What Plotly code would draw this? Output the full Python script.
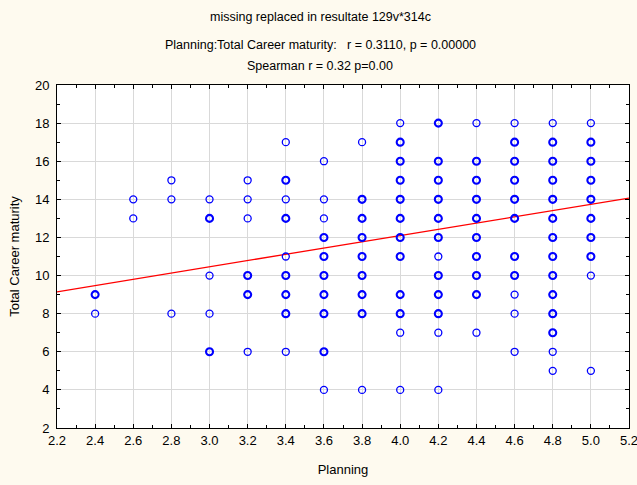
import numpy as np
import plotly.graph_objects as go

# ---- data ----
planning = (
    [2.4] * 2 + [2.6] * 2 + [2.8] * 3 + [3.0] * 5 + [3.2] * 6 + [3.4] * 9 +
    [3.6] * 10 + [3.8] * 9 + [4.0] * 12 + [4.2] * 12 + [4.4] * 10 +
    [4.6] * 11 + [4.8] * 14 + [5.0] * 10
)
career = [
    9, 8,
    14, 13,
    15, 14, 8,
    14, 13, 10, 8, 6,
    15, 14, 13, 10, 9, 6,
    17, 15, 14, 13, 11, 10, 9, 8, 6,
    16, 14, 13, 12, 11, 10, 9, 8, 6, 4,
    17, 14, 13, 12, 11, 10, 9, 8, 4,
    18, 17, 16, 15, 14, 13, 12, 11, 9, 8, 7, 4,
    18, 16, 15, 14, 13, 12, 11, 10, 9, 8, 7, 4,
    18, 16, 15, 14, 13, 12, 11, 10, 9, 7,
    18, 17, 16, 15, 14, 13, 11, 10, 9, 8, 6,
    18, 17, 16, 15, 14, 13, 12, 11, 10, 9, 8, 7, 6, 5,
    18, 17, 16, 15, 14, 13, 12, 11, 10, 5,
]
# 1 = single case, 2 = several overlapping cases (drawn bolder)
overlap = [
    2, 1,
    1, 1,
    1, 1, 1,
    1, 2, 1, 1, 2,
    1, 1, 1, 2, 2, 1,
    1, 2, 1, 2, 1, 2, 2, 2, 1,
    1, 1, 1, 2, 2, 2, 2, 2, 2, 1,
    1, 2, 2, 2, 2, 2, 2, 2, 1,
    1, 2, 2, 2, 2, 2, 2, 2, 2, 2, 1, 1,
    2, 2, 2, 2, 2, 2, 1, 2, 2, 2, 1, 1,
    1, 2, 2, 2, 2, 2, 2, 2, 2, 1,
    1, 2, 2, 2, 2, 2, 2, 2, 1, 1, 1,
    1, 2, 2, 2, 2, 2, 2, 2, 2, 2, 2, 2, 1, 1,
    1, 2, 2, 2, 2, 2, 2, 2, 1, 1,
]
fit_intercept = 5.54
fit_slope = 1.64
x_range = [2.2, 5.2]
y_range = [2, 20]

title_lines = [
    "missing replaced in resultate 129v*314c",
    "Planning:Total Career maturity:\u00a0\u00a0 r = 0.3110, p = 0.00000",
    "Spearman r = 0.32 p=0.00",
]

# ---- figure ----
FONT = "Liberation Sans, Arial, sans-serif"
L, R, T, B = 57, 8, 85, 57
W, H = 637, 485
plot_h = H - T - B
plot_w = W - L - R

widths = [1.3 if c == 1 else 2.1 for c in overlap]

fig = go.Figure()
fit_x = np.array(x_range)
fit_y = fit_intercept + fit_slope * fit_x
fig.add_trace(go.Scatter(
    x=fit_x, y=fit_y, mode="lines",
    line=dict(color="#FF0000", width=1.3), hoverinfo="skip", showlegend=False,
))
fig.add_trace(go.Scatter(
    x=planning, y=career, mode="markers",
    marker=dict(symbol="circle-open", size=7, color="#0000FF",
                line=dict(color="#0000FF", width=widths)),
    showlegend=False,
))

axis_common = dict(
    showline=True, linecolor="black", linewidth=1, mirror="ticks",
    ticks="inside", ticklen=4, tickcolor="black", tickwidth=1,
    showgrid=True, gridcolor="#D9D9D9", gridwidth=1, zeroline=False,
    tickfont=dict(family=FONT, size=13, color="black"),
    ticklabeloverflow="allow", automargin=False,
)
fig.update_xaxes(
    range=x_range, dtick=0.2, tick0=2.2, tickformat=".1f",
    minor=dict(ticks="inside", ticklen=3, dtick=0.1, tickcolor="black", showgrid=False),
    title=dict(text="Planning", font=dict(family=FONT, size=13, color="black"), standoff=18),
    **axis_common,
)
fig.update_yaxes(
    range=y_range, dtick=2, tick0=2, ticklabelstandoff=4,
    minor=dict(ticks="inside", ticklen=3, dtick=1, tickcolor="black", showgrid=False),
    title=dict(text="Total Career maturity", font=dict(family=FONT, size=13, color="black"), standoff=12),
    **axis_common,
)

title_px = [17, 45, 66]
for txt, ypx in zip(title_lines, title_px):
    fig.add_annotation(
        text=txt, xref="paper", yref="paper",
        x=(320 - L) / plot_w, y=1 + (T - ypx) / plot_h,
        xanchor="center", yanchor="middle", showarrow=False,
        font=dict(family=FONT, size=12.5, color="black"),
    )

fig.update_layout(
    width=W, height=H,
    margin=dict(l=L, r=R, t=T, b=B, pad=0),
    paper_bgcolor="#FEFAEF", plot_bgcolor="white",
    font=dict(family=FONT),
)

fig.write_html(
    "out.html",
    config={"displayModeBar": False},
    post_script="document.body.style.margin='0';document.body.style.overflow='hidden';",
)
